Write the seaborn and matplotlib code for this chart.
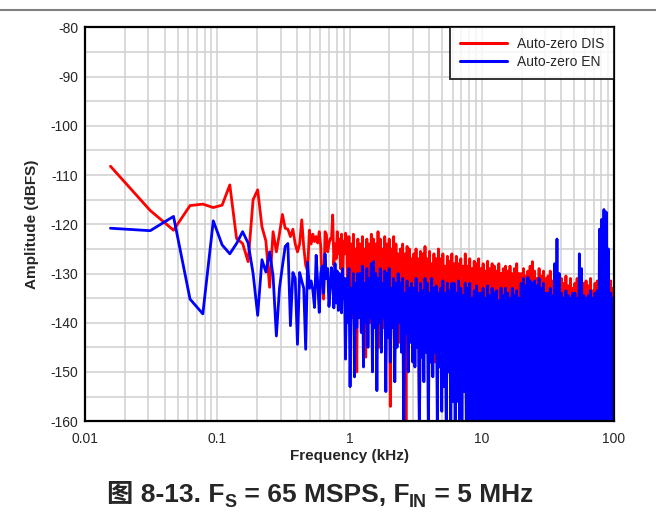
import matplotlib
matplotlib.use("Agg")
import matplotlib.pyplot as plt
import matplotlib.ticker as mticker
import numpy as np
import pandas as pd
import seaborn as sns

# FFT bin width (kHz) for the low-frequency part, first 60 bins
DF = 0.0155
low_bins = np.arange(1, 61)

red_low = [-108.2, -117.2, -121.2, -116.2, -115.9, -116.6, -116.1, -112.0, -122.9, -123.9,
           -127.6, -115.0, -113.0, -120.5, -123.4, -132.8, -121.5, -125.6, -121.9, -118.0,
           -120.8, -121.0, -122.5, -121.0, -124.0, -125.6, -124.0, -119.1, -124.6, -128.3,
           -129.5, -121.2, -124.0, -122.0, -123.5, -122.5, -123.8, -121.5, -124.5, -132.0,
           -135.2, -121.5, -122.0, -125.6, -124.0, -122.9, -123.0, -118.1, -128.3, -124.0,
           -127.0, -121.5, -126.0, -123.0, -129.0, -122.0, -134.0, -123.5, -126.0, -121.8]

blue_low = [-120.8, -121.3, -118.4, -135.2, -138.2, -119.3, -124.2, -126.0, -123.9, -121.5,
            -123.8, -130.0, -138.5, -127.2, -129.7, -125.6, -130.5, -142.7, -133.0, -128.5,
            -124.5, -123.9, -140.6, -129.8, -131.0, -144.4, -129.8, -131.5, -133.0, -145.4,
            -127.7, -133.0, -131.5, -133.5, -136.9, -126.3, -132.0, -137.9, -130.0, -128.5,
            -134.0, -126.0, -131.0, -129.0, -136.7, -133.0, -128.8, -131.0, -137.0, -128.0,
            -136.0, -129.5, -137.5, -130.0, -132.0, -138.0, -129.0, -135.0, -131.0, -147.4]

# dense part of the spectrum, 0.95 kHz .. 100 kHz
dense_start, dense_stop, dense_n = 0.95, 100, 240

red_dense = [
    -123, -136, -122.5, -134, -124, -139, -122, -135, -125, -150, -123, -137,
    -124, -138, -122.5, -136, -125, -147, -123, -135, -124, -140, -122, -137,
    -123, -139, -124, -137, -121.5, -145, -123, -136, -125, -141, -122.5, -138,
    -124, -140, -123, -157, -125, -138, -122.5, -142, -124, -139, -126, -144,
    -125, -141, -124, -139, -126, -160, -124.5, -143, -125, -140, -127, -145,
    -126, -144, -125, -140, -127, -162, -125.5, -142, -126, -146, -124.5, -141,
    -127, -143, -125.5, -145, -128, -141, -126, -148, -127, -144, -125, -146,
    -127, -145, -126, -147, -128.5, -143, -126.5, -150, -127.5, -144, -126, -148,
    -128, -146, -126.5, -149, -128, -144, -127, -152, -128.5, -147, -126, -145,
    -128.5, -148, -127, -150, -129, -146, -127.5, -155, -128, -149, -127, -151,
    -129, -150, -128, -152, -129.5, -148, -127.5, -153, -129, -150, -128, -149,
    -128.5, -151, -129.5, -149, -128, -154, -130, -150, -129, -152, -128.5, -150,
    -129.5, -152, -128.5, -150, -130, -155, -129, -151, -128, -153, -130, -150,
    -130, -152, -129, -150, -130.5, -154, -129.5, -151, -128.5, -153, -127.6, -150,
    -129.5, -153, -131, -150, -129, -155, -130.5, -152, -129.5, -151, -131, -154,
    -130.5, -152, -129.5, -154, -131.5, -151, -130, -153, -131, -150, -130.5, -152,
    -131, -153, -132, -150, -130.5, -155, -132.5, -152, -131, -154, -133, -151,
    -132, -152, -131, -155, -133, -150, -130.5, -154, -132, -151, -131.5, -153,
    -132.5, -151, -131, -154, -133.5, -152, -132, -155, -131.5, -150, -133, -153,
    -132, -152, -131, -154, -133.5, -151, -132, -153, -131.5, -155, -133, -150,
]

blue_dense = [
    -131, -140, -129, -153, -133, -138, -130, -151, -132, -141, -130, -139,
    -130, -142, -128.5, -149, -132, -140, -129, -145, -131, -139, -128, -150,
    -127.6, -141, -130, -153.8, -131, -140, -129, -146, -132, -139, -129.5, -154,
    -130, -143, -129, -148, -133, -141, -131, -152, -132, -145, -130, -140,
    -132, -146, -131, -162, -134, -142, -131.5, -150, -133, -144, -132, -148,
    -133, -149, -131, -145, -134, -163, -132, -147, -133.5, -152, -131, -146,
    -132, -163, -134, -148, -131, -151, -133, -146, -132.5, -160, -134, -149,
    -133, -158, -131.5, -153, -134, -163, -132, -150, -133.5, -161, -132, -156,
    -132, -162, -134, -156, -131.5, -163, -133, -160, -134.5, -154, -132, -165,
    -133, -164, -132, -161, -135, -165, -133.5, -163, -132.5, -165, -134, -160,
    -134, -164, -133, -162, -135, -165, -132.5, -163, -134.5, -161, -133, -165,
    -134, -165, -133.5, -163, -135.5, -165, -133, -162, -134.5, -165, -133, -164,
    -134, -165, -135, -163, -133, -165, -134.5, -164, -133.5, -165, -135, -163,
    -132, -165, -131, -163, -132.5, -165, -130.8, -164, -131.5, -165, -132, -163,
    -131.5, -165, -132.5, -164, -131, -165, -133, -163, -132, -165, -134, -164,
    -134, -165, -133, -164, -134.5, -165, -128, -163, -123, -165, -130, -165,
    -134, -165, -135, -164, -133.5, -165, -134.5, -163, -135, -165, -134, -164,
    -134, -165, -135, -164, -126, -165, -129, -165, -134.5, -163, -135, -165,
    -134.5, -165, -133.5, -164, -135, -165, -134, -163, -133.5, -165, -121, -164,
    -119, -165, -117, -163, -117.5, -165, -125, -164, -134, -164, -135, -165,
]

freq = np.concatenate([low_bins * DF, np.geomspace(dense_start, dense_stop, dense_n)])
df = pd.concat([
    pd.DataFrame({"Frequency": freq, "Amplitude": red_low + red_dense, "Mode": "Auto-zero DIS"}),
    pd.DataFrame({"Frequency": freq, "Amplitude": blue_low + blue_dense, "Mode": "Auto-zero EN"}),
])

sns.set_style("white")
plt.rcParams['font.family'] = ['Liberation Sans', 'Noto Sans CJK SC', 'DejaVu Sans']
plt.rcParams['axes.unicode_minus'] = False
plt.rcParams['path.simplify'] = False

fig = plt.figure(figsize=(6.56, 5.18), dpi=100)
ax = fig.add_axes([0.13, 0.187, 0.806, 0.760])

sns.lineplot(data=df, x="Frequency", y="Amplitude", hue="Mode", estimator=None,
             palette={"Auto-zero DIS": "#ff0000", "Auto-zero EN": "#0000ff"},
             linewidth=2.0, ax=ax)

ax.set_xscale("log")
ax.set_xlim(0.01, 100)
ax.set_ylim(-160, -80)
ax.set_xticks([0.01, 0.1, 1, 10, 100])
ax.set_xticklabels(["0.01", "0.1", "1", "10", "100"])
ax.xaxis.set_minor_locator(mticker.LogLocator(base=10, subs=np.arange(2, 10)))
ax.xaxis.set_minor_formatter(mticker.NullFormatter())
ax.set_yticks(np.arange(-160, -79, 10))
ax.yaxis.set_minor_locator(mticker.MultipleLocator(5))
ax.grid(True, which="both", color="#d0d0d0", linewidth=1.1)
ax.set_axisbelow(True)
ax.tick_params(which="both", length=0, labelsize=10)
ax.tick_params(axis="x", pad=8)
ax.tick_params(axis="y", pad=5)

for sp in ax.spines.values():
    sp.set_color("black")
    sp.set_linewidth(1.6)

ax.set_xlabel("Frequency (kHz)", fontsize=11, fontweight="bold", labelpad=2)
ax.set_ylabel("Amplitude (dBFS)", fontsize=11, fontweight="bold", labelpad=8)

leg = ax.legend(loc="upper right", fontsize=10, frameon=True, fancybox=False,
                borderaxespad=0, handlelength=3.4, labelspacing=0.3,
                borderpad=0.7, handletextpad=0.7)
leg.get_frame().set_edgecolor("black")
leg.get_frame().set_linewidth(1.4)
for line in leg.get_lines():
    line.set_linewidth(2.2)

# caption, built piece by piece so that 图 falls back to the CJK font
cap = dict(fontsize=19, fontweight="bold")
sub = dict(fontsize=13, fontweight="bold")
t0 = fig.text(0.163, 0.022, "图 8-13. F", ha="left", va="bottom", **cap)
t1 = plt.annotate("S", xy=(1, 0), xycoords=(t0, t0), va="bottom", ha="left",
                  xytext=(0, -3), textcoords="offset points", annotation_clip=False, **sub)
t2 = plt.annotate(" = 65 MSPS, F", xy=(1, 0), xycoords=(t1, t0), va="bottom", ha="left",
                  annotation_clip=False, **cap)
t3 = plt.annotate("IN", xy=(1, 0), xycoords=(t2, t0), va="bottom", ha="left",
                  xytext=(0, -3), textcoords="offset points", annotation_clip=False, **sub)
t4 = plt.annotate(" = 5 MHz", xy=(1, 0), xycoords=(t3, t0), va="bottom", ha="left",
                  annotation_clip=False, **cap)

# header rule across the top of the page
fig.add_artist(plt.Line2D([0, 1], [0.981, 0.981], color="#808080", linewidth=1.5))

fig.savefig("out.png", dpi=100)
